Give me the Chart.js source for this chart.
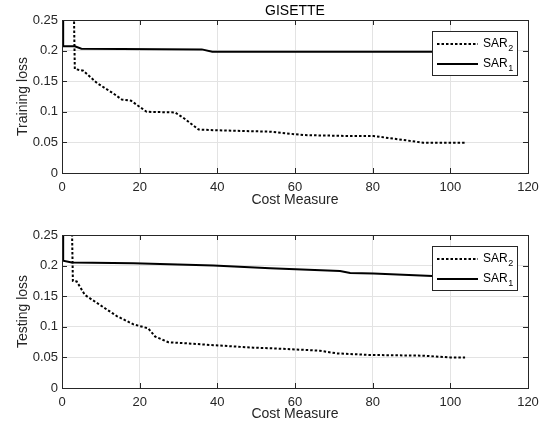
<!DOCTYPE html>
<html>
<head>
<meta charset="utf-8">
<script src="https://cdn.jsdelivr.net/npm/chart.js@4.4.0/dist/chart.umd.min.js"></script>
<style>
html, body { margin: 0; padding: 0; background: #fff; }
#wrap { position: relative; width: 548px; height: 427px; }
.box { position: absolute; left: 0; width: 548px; }
</style>
</head>
<body>
<div id="wrap">
  <div class="box" style="top:0;height:213px"><canvas id="grafica-train"></canvas></div>
  <div class="box" style="top:213px;height:214px"><canvas id="grafica-test"></canvas></div>
</div>
<script>
// datos (GISETTE)
const xTicks = [0, 20, 40, 60, 80, 100, 120];
const yTicks = [0, 0.05, 0.1, 0.15, 0.2, 0.25];

// Training loss
const trainCostSar2 = [0, 3.1, 3.3, 5.5, 9.0, 13.2, 15.4, 17.8, 21.8, 29.1, 31.5, 35.2, 39, 53.6, 62.1, 73.3, 80.2, 87.9, 93, 104];
const trainLossSar2 = [0.25, 0.25, 0.170, 0.167, 0.147, 0.130, 0.120, 0.118, 0.100, 0.099, 0.089, 0.071, 0.070, 0.0675, 0.062, 0.0605, 0.0605, 0.054, 0.0495, 0.0495];
const trainCostSar1 = [0.3, 0.3, 3.3, 5.0, 36, 38.7, 104];
const trainLossSar1 = [0.25, 0.207, 0.207, 0.203, 0.202, 0.198, 0.198];

// Testing loss
const testCostSar2 = [0, 2.6, 2.8, 3.8, 5.9, 9.8, 14.1, 18.4, 22.2, 24, 27.4, 32.1, 39, 49.3, 53.6, 66.4, 70.7, 79.3, 93, 99.9, 103.8];
const testLossSar2 = [0.25, 0.25, 0.175, 0.174, 0.152, 0.1356, 0.1176, 0.104, 0.0975, 0.084, 0.0747, 0.073, 0.070, 0.0659, 0.065, 0.061, 0.0566, 0.054, 0.0528, 0.050, 0.050];
const testCostSar1 = [0.3, 0.3, 2.5, 18.4, 39, 53.6, 71.6, 74.2, 80.2, 95.4, 104];
const testLossSar1 = [0.25, 0.208, 0.205, 0.2037, 0.200, 0.1955, 0.191, 0.188, 0.187, 0.183, 0.181];

const FONT = "'Liberation Sans', Arial, Helvetica, sans-serif";
const INK = "#262626";

function puntos(xs, ys) {
    return xs.map((x, i) => ({ x: x, y: ys[i] }));
}

// caja, ticks hacia dentro, leyenda y titulo al estilo MATLAB
const matlabPlugin = {
    id: "matlab",
    afterDatasetsDraw(chart, args, opts) {
        const ctx = chart.ctx;
        const a = chart.chartArea;
        const sx = chart.scales.x;
        const sy = chart.scales.y;
        ctx.save();
        ctx.strokeStyle = INK;
        ctx.lineWidth = 1;
        ctx.beginPath();
        xTicks.forEach(v => {
            const px = Math.round(sx.getPixelForValue(v)) + 0.5;
            ctx.moveTo(px, a.bottom); ctx.lineTo(px, a.bottom - 5);
            ctx.moveTo(px, a.top); ctx.lineTo(px, a.top + 5);
        });
        yTicks.forEach(v => {
            const py = Math.round(sy.getPixelForValue(v)) + 0.5;
            ctx.moveTo(a.left, py); ctx.lineTo(a.left + 5, py);
            ctx.moveTo(a.right, py); ctx.lineTo(a.right - 5, py);
        });
        ctx.stroke();
        ctx.strokeRect(Math.round(a.left) + 0.5, Math.round(a.top) + 0.5, Math.round(a.right - a.left), Math.round(a.bottom - a.top));

        // leyenda
        const lx = a.right - 96, ly = a.top + 11, lw = 85, lh = 44;
        ctx.fillStyle = "#fff";
        ctx.fillRect(lx, ly, lw, lh);
        ctx.strokeStyle = INK;
        ctx.strokeRect(lx + 0.5, ly + 0.5, lw, lh);
        const filas = [
            { name: "SAR", sub: "2", dash: [2.5, 2], y: ly + 13 },
            { name: "SAR", sub: "1", dash: [], y: ly + 33 }
        ];
        filas.forEach(f => {
            ctx.beginPath();
            ctx.strokeStyle = "#000";
            ctx.lineWidth = 2;
            ctx.setLineDash(f.dash);
            ctx.moveTo(lx + 5, f.y);
            ctx.lineTo(lx + 46, f.y);
            ctx.stroke();
            ctx.setLineDash([]);
            ctx.fillStyle = "#000";
            ctx.textBaseline = "middle";
            ctx.textAlign = "left";
            ctx.font = "12px " + FONT;
            ctx.fillText(f.name, lx + 51, f.y);
            const w = ctx.measureText(f.name).width;
            ctx.font = "9px " + FONT;
            ctx.fillText(f.sub, lx + 51 + w + 0.5, f.y + 5);
        });

        if (opts.titulo) {
            ctx.fillStyle = "#000";
            ctx.font = "14px " + FONT;
            ctx.textAlign = "center";
            ctx.textBaseline = "middle";
            ctx.fillText(opts.titulo, (a.left + a.right) / 2, 11);
        }
        ctx.restore();
    }
};

function grafica(id, costSar2, lossSar2, costSar1, lossSar1, yTitulo, titulo, topPad, xAlto) {
    const ctx = document.getElementById(id).getContext("2d");
    return new Chart(ctx, {
        type: "line",
        data: {
            datasets: [{
                label: "SAR2",
                data: puntos(costSar2, lossSar2),
                borderColor: "#000",
                borderWidth: 2,
                borderDash: [2.5, 2],
                borderCapStyle: "butt",
                pointRadius: 0,
                tension: 0,
                fill: false
            }, {
                label: "SAR1",
                data: puntos(costSar1, lossSar1),
                borderColor: "#000",
                borderWidth: 2,
                pointRadius: 0,
                tension: 0,
                fill: false
            }]
        },
        options: {
            responsive: true,
            maintainAspectRatio: false,
            animation: false,
            layout: { padding: { left: 0, right: 20, top: topPad, bottom: 0 } },
            plugins: {
                legend: { display: false },
                tooltip: { enabled: false },
                matlab: { titulo: titulo }
            },
            scales: {
                x: {
                    type: "linear",
                    min: 0,
                    max: 120,
                    afterFit: s => { s.height = xAlto; },
                    afterBuildTicks: s => { s.ticks = xTicks.map(v => ({ value: v })); },
                    grid: { color: "#e3e3e3", drawTicks: false },
                    border: { display: false },
                    ticks: { color: INK, padding: 7, font: { family: FONT, size: 13 } },
                    title: { display: true, text: "Cost Measure", color: INK, padding: { top: 0, bottom: 4 }, font: { family: FONT, size: 14 } }
                },
                y: {
                    type: "linear",
                    min: 0,
                    max: 0.25,
                    afterFit: s => { s.width = 62; },
                    afterBuildTicks: s => { s.ticks = yTicks.map(v => ({ value: v })); },
                    grid: { color: "#e3e3e3", drawTicks: false },
                    border: { display: false },
                    ticks: { color: INK, padding: 4, font: { family: FONT, size: 13 }, callback: v => String(v) },
                    title: { display: true, text: yTitulo, color: INK, padding: { top: 15, bottom: 0 }, font: { family: FONT, size: 14 } }
                }
            }
        },
        plugins: [matlabPlugin]
    });
}

grafica("grafica-train", trainCostSar2, trainLossSar2, trainCostSar1, trainLossSar1, "Training loss", "GISETTE", 20, 40);
grafica("grafica-test", testCostSar2, testLossSar2, testCostSar1, testLossSar1, "Testing loss", null, 22, 39);
</script>
</body>
</html>
